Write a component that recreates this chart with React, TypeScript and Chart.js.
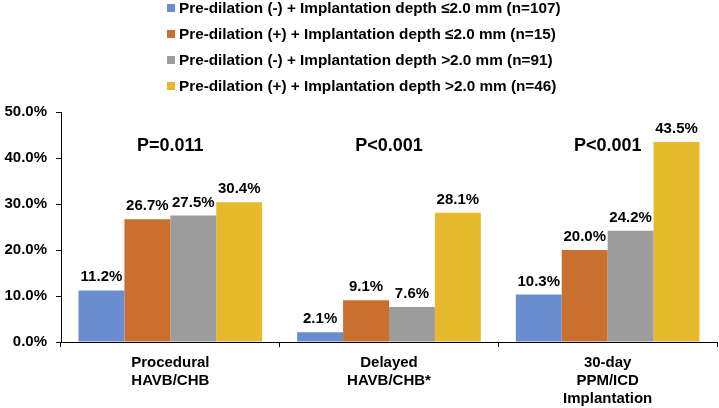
import React, { useEffect, useRef } from "react";
import { Chart, registerables } from "chart.js";

Chart.register(...registerables);

const categories: string[][] = [
  ["Procedural", "HAVB/CHB"],
  ["Delayed", "HAVB/CHB*"],
  ["30-day", "PPM/ICD", "Implantation"],
];

const seriesLabels: string[] = [
  "Pre-dilation (-) + Implantation depth \u22642.0 mm (n=107)",
  "Pre-dilation (+) + Implantation depth \u22642.0 mm (n=15)",
  "Pre-dilation (-) + Implantation depth >2.0 mm (n=91)",
  "Pre-dilation (+) + Implantation depth >2.0 mm (n=46)",
];

const noDilShallow: number[] = [11.2, 2.1, 10.3];
const dilShallow: number[] = [26.7, 9.1, 20.0];
const noDilDeep: number[] = [27.5, 7.6, 24.2];
const dilDeep: number[] = [30.4, 28.1, 43.5];

const pValues: string[] = ["P=0.011", "P<0.001", "P<0.001"];

const yTicks: number[] = [0, 10, 20, 30, 40, 50];

const colors: string[] = ["#6B8DCF", "#C9702F", "#9C9C9C", "#E7B92D"];

const FONT = "'Liberation Sans', Arial, sans-serif";

const dataLabelPlugin = {
  id: "dataLabels",
  afterDatasetsDraw(chart: any) {
    const ctx = chart.ctx;
    ctx.save();
    ctx.font = `bold 15px ${FONT}`;
    ctx.fillStyle = "#000";
    ctx.textAlign = "center";
    ctx.textBaseline = "alphabetic";
    chart.data.datasets.forEach((ds: any, di: number) => {
      const meta = chart.getDatasetMeta(di);
      meta.data.forEach((bar: any, i: number) => {
        const v = ds.data[i] as number;
        ctx.fillText(v.toFixed(1) + "%", bar.x, bar.y - 9);
      });
    });
    const xs = chart.scales.x;
    const ys = chart.scales.y;
    ctx.font = `bold 18px ${FONT}`;
    ctx.textBaseline = "middle";
    const pY = ys.getPixelForValue(42.7);
    pValues.forEach((p, i) => {
      ctx.fillText(p, xs.getPixelForValue(i), pY);
    });
    ctx.restore();
  },
};

const legendPlugin = {
  id: "customLegend",
  afterDraw(chart: any) {
    const ctx = chart.ctx;
    ctx.save();
    ctx.font = `bold 15.3px ${FONT}`;
    ctx.textBaseline = "middle";
    ctx.textAlign = "left";
    const box = 8;
    const gap = 4;
    let maxW = 0;
    chart.data.datasets.forEach((ds: any) => {
      maxW = Math.max(maxW, ctx.measureText(ds.label).width);
    });
    const total = box + gap + maxW;
    const left = Math.round((chart.width - total) / 2) + 4;
    const top = 8;
    const rowH = 26;
    chart.data.datasets.forEach((ds: any, i: number) => {
      const cy = top + i * rowH;
      ctx.fillStyle = ds.backgroundColor;
      ctx.fillRect(left, cy - box / 2, box, box);
      ctx.fillStyle = "#000";
      ctx.fillText(ds.label, left + box + gap, cy + 0.5);
    });
    ctx.restore();
  },
};

export default function App() {
  const canvasRef = useRef<HTMLCanvasElement | null>(null);

  useEffect(() => {
    if (!canvasRef.current) return;
    const seriesData = [noDilShallow, dilShallow, noDilDeep, dilDeep];
    const chart = new Chart(canvasRef.current, {
      type: "bar",
      data: {
        labels: categories,
        datasets: seriesData.map((d, i) => ({
          label: seriesLabels[i],
          data: d,
          backgroundColor: colors[i],
          borderWidth: 0,
          categoryPercentage: 0.84,
          barPercentage: 1.0,
        })),
      },
      options: {
        animation: false,
        responsive: true,
        maintainAspectRatio: false,
        layout: { padding: { top: 112, right: 2, left: 0, bottom: 0 } },
        plugins: {
          legend: { display: false },
          tooltip: { enabled: false },
          title: { display: false },
        },
        scales: {
          x: {
            grid: {
              display: true,
              drawOnChartArea: false,
              drawTicks: true,
              tickLength: 5,
              offset: true,
              color: "#000",
              tickColor: "#000",
            },
            border: { display: true, color: "#000", width: 1 },
            ticks: {
              color: "#000",
              font: { family: FONT, size: 15, weight: "bold", lineHeight: 1.2 },
              padding: 7,
              maxRotation: 0,
              autoSkip: false,
            },
            afterFit(scale: any) {
              scale.height = 66;
            },
          },
          y: {
            min: 0,
            max: 50,
            afterBuildTicks(scale: any) {
              scale.ticks = yTicks.map((v) => ({ value: v }));
            },
            grid: {
              display: true,
              drawOnChartArea: false,
              drawTicks: true,
              tickLength: 5,
              color: "#000",
              tickColor: "#000",
            },
            border: { display: true, color: "#000", width: 1 },
            ticks: {
              color: "#000",
              font: { family: FONT, size: 15, weight: "bold" },
              padding: 9,
              callback: (v: any) => Number(v).toFixed(1) + "%",
            },
            afterFit(scale: any) {
              scale.width = 61;
            },
          },
        },
      },
      plugins: [dataLabelPlugin, legendPlugin],
    });
    return () => chart.destroy();
  }, []);

  return (
    <div
      style={{
        position: "fixed",
        left: 0,
        top: 0,
        width: "719px",
        height: "408px",
        background: "#fff",
      }}
    >
      <canvas ref={canvasRef} />
    </div>
  );
}
